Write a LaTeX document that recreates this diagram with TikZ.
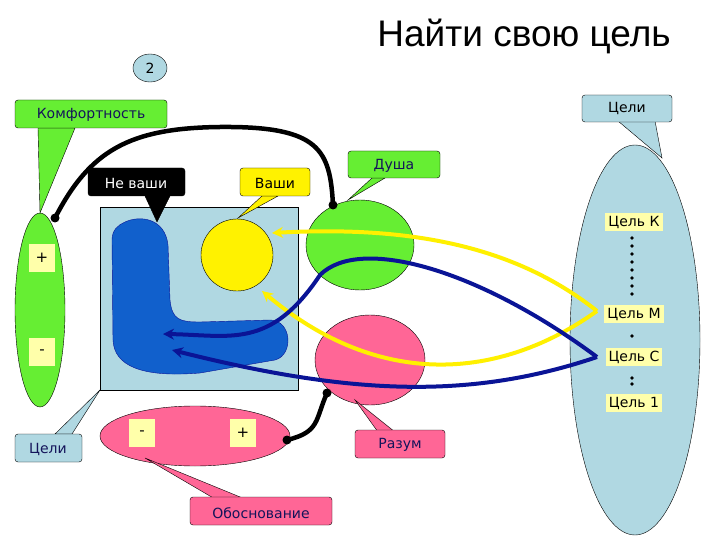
\documentclass[tikz,border=0pt]{standalone}
\usepackage{fontspec}
\setmainfont{DejaVu Sans}
\newfontfamily\titlefont{Liberation Sans}
\usetikzlibrary{arrows.meta,shapes.geometric}
\definecolor{grn}{RGB}{102,238,51}
\definecolor{pnk}{RGB}{255,102,150}
\definecolor{lblue}{RGB}{176,216,226}
\definecolor{lyel}{RGB}{255,255,170}
\definecolor{bluefill}{RGB}{17,96,204}
\definecolor{dblue}{RGB}{10,20,150}
\definecolor{yel}{RGB}{255,240,0}
\definecolor{txtblue}{RGB}{20,20,90}
\begin{document}
\begin{tikzpicture}[x=1pt,y=-1pt,
  lbl/.style={font=\fontsize{14}{16}\selectfont,text=txtblue},
  sq/.style={fill=lyel,minimum width=26pt,minimum height=28pt,inner sep=0pt,font=\fontsize{15}{16}\selectfont},
  goal/.style={fill=lyel,inner sep=3pt,font=\fontsize{14}{16}\selectfont},
  bk/.style={line width=4.5pt,black,line cap=round},
  yl/.style={line width=4pt,yel,-{Stealth[length=11pt,width=11pt]}},
  bl/.style={line width=4pt,dblue,-{Stealth[length=11pt,width=11pt]}},
  dotc/.style={circle,fill=black,inner sep=0pt,minimum size=9pt}]
\useasboundingbox (0,0) rectangle (720,540);
\fill[white] (0,0) rectangle (720,540);
% title
\node[font=\titlefont\fontsize{37}{40}\selectfont] (title) at (524,36) {Найти свою цель};
\node[ellipse,draw,fill=lblue,minimum width=34pt,minimum height=28pt,inner sep=0pt,font=\fontsize{14}{16}\selectfont] (two) at (150,68) {2};
% right ellipse
\draw[fill=lblue] (635,340) ellipse (65 and 195);
\draw[fill=lblue] (618,121) -- (662,158) -- (655,121) -- cycle;
\draw[fill=lblue,rounded corners=3pt] (582,95) rectangle (672,122);
\node[lbl,text=black] (celiR) at (627,108) {Цели};
% goal labels
\node[goal] (gK) at (634,222) {Цель К};
\node[goal] (gM) at (634,314) {Цель М};
\node[goal] (gC) at (634,357) {Цель С};
\node[goal] (g1) at (634,403) {Цель 1};
\foreach \y in {238,246,254,262,270,278,286,294} \fill (632,\y) circle (1.8pt);
\foreach \y in {336} \fill (632,\y) circle (1.8pt);
\foreach \y in {378,384} \fill (632,\y) circle (1.8pt);
% left ellipse
\draw[fill=grn] (40,310) ellipse (25 and 97);
\draw[fill=grn] (38,128) -- (40,213) -- (75,128) -- cycle;
\draw[fill=grn,rounded corners=3pt] (15,100) rectangle (167,128);
\node[lbl] (komf) at (91,115) {Комфортность};
\node[sq] (lp) at (42,258) {+};
\node[sq] (lm) at (42,352) {-};
% square
\draw[fill=lblue] (100,207) rectangle (298,390);
\draw[fill=bluefill,draw=dblue] (125,222) .. controls (140,215) and (165,218) .. (168,245) -- (170,300) .. controls (172,320) and (180,322) .. (200,322) -- (270,320) .. controls (292,320) and (294,355) .. (275,360) -- (200,373) .. controls (140,378) and (114,365) .. (113,340) -- (112,240) .. controls (112,230) and (118,225) .. (125,222) -- cycle;
\draw[fill=black] (145,196) -- (157,222) -- (170,196) -- cycle;
\draw[fill=black,rounded corners=3pt] (88,168) rectangle (185,196);
\node[lbl,text=white] (nevashi) at (136,183) {Не ваши};
\draw[fill=yellow] (237,255) circle (36);
\draw[fill=yellow] (262,196) -- (238,218) -- (278,196) -- cycle;
\draw[fill=yellow,rounded corners=3pt] (240,168) rectangle (310,196);
\node[lbl,text=black] (vashi) at (275,183) {Ваши};
% Celi bottom-left
\draw[fill=lblue] (55,434) -- (100,390) -- (72,434) -- cycle;
\draw[fill=lblue,rounded corners=3pt] (15,434) rectangle (82,462);
\node[lbl] (celiL) at (48,449) {Цели};
% green ellipse, pink ellipses
\draw[fill=grn] (360,245) ellipse (54 and 45);
\draw[fill=grn] (372,178) -- (348,200) -- (385,178) -- cycle;
\draw[fill=grn,rounded corners=3pt] (348,151) rectangle (440,178);
\node[lbl] (dusha) at (394,166) {Душа};
\draw[fill=pnk] (370,360) ellipse (55 and 45);
\draw[fill=pnk] (355,400) -- (378,432) -- (395,432) -- cycle;
\draw[fill=pnk,rounded corners=3pt] (355,430) rectangle (445,458);
\node[lbl] (razum) at (400,445) {Разум};
\draw[fill=pnk] (195,436) ellipse (95 and 30);
\node[sq] (bm) at (142,433) {-};
\node[sq] (bp) at (243,433) {+};
\draw[fill=pnk] (145,458) -- (215,499) -- (245,499) -- cycle;
\draw[fill=pnk,rounded corners=3pt] (190,497) rectangle (332,525);
\node[lbl] (obos) at (261,513) {Обоснование};
% black connectors
\node[dotc] (d1) at (55,218) {};
\node[dotc] (d2) at (333,205) {};
\node[dotc] (d3) at (327,393) {};
\node[dotc] (d4) at (287,440) {};
\draw[bk] (d1.center) .. controls (90,150) and (130,128) .. (220,127) .. controls (320,126) and (330,150) .. (d2.center);
\draw[bk] (d3.center) .. controls (315,420) and (320,432) .. (d4.center);
% yellow arrows
\coordinate (yM) at (597,311);
\coordinate (yA) at (272,233);
\coordinate (yB) at (262,291);
\draw[yl] (yM) .. controls (520,250) and (420,225) .. (yA);
\draw[yl] (yM) .. controls (500,380) and (380,390) .. (yB);
% blue arrows
\coordinate (bC) at (597,357);
\coordinate (bA) at (163,334);
\coordinate (bB) at (172,350);
\draw[bl] (bC) .. controls (480,270) and (360,235) .. (320,275) .. controls (270,350) and (230,335) .. (bA);
\draw[bl] (bC) .. controls (470,400) and (350,395) .. (bB);
\end{tikzpicture}
\end{document}
